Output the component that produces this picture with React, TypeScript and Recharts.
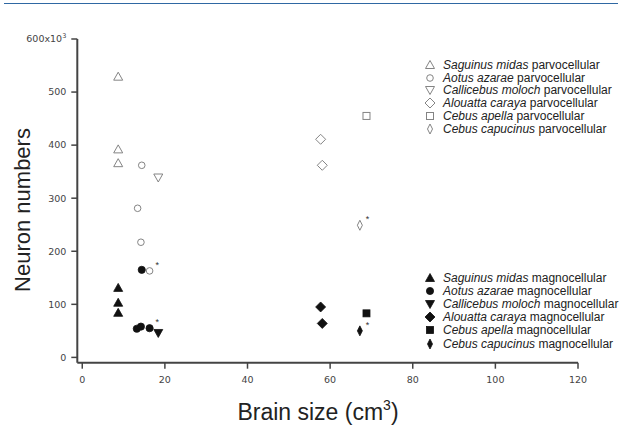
import { ScatterChart, Scatter, XAxis, YAxis } from 'recharts';

const xTicks = [0, 20, 40, 60, 80, 100, 120];
const yTicks = [0, 100, 200, 300, 400, 500, 600];

type Pt = { x: number; y: number; star?: boolean };

// parvocellular (open markers), y in thousands
const saguinusParvo: Pt[] = [
  { x: 8.7, y: 529 },
  { x: 8.7, y: 392 },
  { x: 8.7, y: 366 },
];
const aotusParvo: Pt[] = [
  { x: 14.4, y: 362 },
  { x: 13.4, y: 281 },
  { x: 14.2, y: 217 },
  { x: 16.3, y: 163, star: true },
];
const callicebusParvo: Pt[] = [{ x: 18.4, y: 339 }];
const alouattaParvo: Pt[] = [
  { x: 57.7, y: 411 },
  { x: 58.1, y: 362 },
];
const apellaParvo: Pt[] = [{ x: 68.8, y: 455 }];
const capucinusParvo: Pt[] = [{ x: 67.2, y: 249, star: true }];

// magnocellular (filled markers)
const saguinusMagno: Pt[] = [
  { x: 8.7, y: 131 },
  { x: 8.7, y: 103 },
  { x: 8.7, y: 84 },
];
const aotusMagno: Pt[] = [
  { x: 14.4, y: 165 },
  { x: 13.2, y: 54 },
  { x: 14.2, y: 58 },
  { x: 16.3, y: 55, star: true },
];
const callicebusMagno: Pt[] = [{ x: 18.4, y: 46 }];
const alouattaMagno: Pt[] = [
  { x: 57.7, y: 95 },
  { x: 58.1, y: 64 },
];
const apellaMagno: Pt[] = [{ x: 68.8, y: 83 }];
const capucinusMagno: Pt[] = [{ x: 67.2, y: 50, star: true }];

const species = [
  'Saguinus midas',
  'Aotus azarae',
  'Callicebus moloch',
  'Alouatta caraya',
  'Cebus apella',
  'Cebus capucinus',
];
const kinds = ['triangle', 'circle', 'down', 'diamond', 'square', 'thin'];
const parvoSets = [saguinusParvo, aotusParvo, callicebusParvo, alouattaParvo, apellaParvo, capucinusParvo];
const magnoSets = [saguinusMagno, aotusMagno, callicebusMagno, alouattaMagno, apellaMagno, capucinusMagno];

const OPEN = '#848484';
const FILLED = '#111';
const AXIS = '#444';
const FONT = '"Liberation Sans", Arial, sans-serif';
const TICK_FONT = '"DejaVu Sans", Verdana, sans-serif';

function marker(kind: string, cx: number, cy: number, filled: boolean) {
  const fill = filled ? FILLED : 'none';
  const stroke = filled ? FILLED : OPEN;
  const sw = filled ? 0.8 : 1;
  switch (kind) {
    case 'triangle':
      return <polygon points={`${cx},${cy - 4.5} ${cx + 4.5},${cy + 3.5} ${cx - 4.5},${cy + 3.5}`} fill={fill} stroke={stroke} strokeWidth={sw} />;
    case 'down':
      return <polygon points={`${cx - 4.5},${cy - 3.5} ${cx + 4.5},${cy - 3.5} ${cx},${cy + 4.5}`} fill={fill} stroke={stroke} strokeWidth={sw} />;
    case 'circle':
      return <circle cx={cx} cy={cy} r={filled ? 3.6 : 3.3} fill={fill} stroke={stroke} strokeWidth={sw} />;
    case 'diamond':
      return <polygon points={`${cx},${cy - 5} ${cx + 5},${cy} ${cx},${cy + 5} ${cx - 5},${cy}`} fill={fill} stroke={stroke} strokeWidth={sw} />;
    case 'square':
      return <rect x={cx - 3.5} y={cy - 3.5} width={7} height={7} fill={fill} stroke={stroke} strokeWidth={sw} />;
    default:
      return <polygon points={`${cx},${cy - 5} ${cx + 2.5},${cy} ${cx},${cy + 5} ${cx - 2.5},${cy}`} fill={fill} stroke={stroke} strokeWidth={sw} />;
  }
}

function makeShape(kind: string, filled: boolean) {
  return (props: any) => {
    const { cx, cy, payload } = props;
    return (
      <g>
        {marker(kind, cx, cy, filled)}
        {payload?.star && (
          <text x={cx + 6} y={cy - 3} fontSize={9} fill="#333" fontFamily={FONT}>
            *
          </text>
        )}
      </g>
    );
  };
}

const XTick = (props: any) => {
  const { x, y, payload } = props;
  return (
    <text x={x} y={y + 12} textAnchor="middle" fontSize={9.5} fill="#444" fontFamily={TICK_FONT}>
      {payload.value}
    </text>
  );
};

const YTick = (props: any) => {
  const { x, y, payload } = props;
  if (payload.value === 600) {
    return (
      <text x={x - 3} y={y} dy="0.35em" textAnchor="end" fontSize={9.5} fill="#444" fontFamily={TICK_FONT}>
        600x10
        <tspan fontSize={6.5} dy={-4}>3</tspan>
      </text>
    );
  }
  return (
    <text x={x - 3} y={y} dy="0.35em" textAnchor="end" fontSize={9.5} fill="#444" fontFamily={TICK_FONT}>
      {payload.value}
    </text>
  );
};

function LegendBlock({ top, step, filled, suffix }: { top: number; step: number; filled: boolean; suffix: string }) {
  return (
    <>
      {species.map((name, i) => (
        <div
          key={name}
          style={{
            position: 'absolute',
            left: 423,
            top: top + i * step - 7,
            height: 14,
            display: 'flex',
            alignItems: 'center',
            fontFamily: FONT,
            fontSize: 12,
            color: '#222',
            whiteSpace: 'nowrap',
          }}
        >
          <svg width={14} height={14} style={{ marginRight: 6 }}>
            {marker(kinds[i], 7, 7, filled)}
          </svg>
          <span>
            <i>{name}</i> {suffix}
          </span>
        </div>
      ))}
    </>
  );
}

export default function App() {
  return (
    <div style={{ position: 'absolute', left: 0, top: 0, width: 624, height: 425, background: '#fff' }}>
      <div style={{ position: 'absolute', left: 4, top: 3, width: 614, height: 1, background: '#2f68a3' }} />
      <ScatterChart width={624} height={425} margin={{ top: 39, right: 46, left: 17.3, bottom: 32.3 }}>
        <XAxis
          type="number"
          dataKey="x"
          domain={[-1.2, 120]}
          ticks={xTicks}
          allowDataOverflow
          height={30}
          tickSize={6}
          axisLine={{ stroke: AXIS, strokeWidth: 2 }}
          tickLine={{ stroke: AXIS, strokeWidth: 1.5 }}
          tick={<XTick />}
          label={() => (
            <text x={318} y={420} textAnchor="middle" fontSize={23} fill="#222" fontFamily={FONT}>
              Brain size (cm
              <tspan fontSize={14} dy={-10}>3</tspan>
              <tspan dy={10}>)</tspan>
            </text>
          )}
        />
        <YAxis
          type="number"
          dataKey="y"
          domain={[-10, 600]}
          ticks={yTicks}
          allowDataOverflow
          width={60}
          tickSize={6}
          axisLine={{ stroke: AXIS, strokeWidth: 2 }}
          tickLine={{ stroke: AXIS, strokeWidth: 1.5 }}
          tick={<YTick />}
          label={() => (
            <text
              x={0}
              y={0}
              transform="translate(30, 210) rotate(-90)"
              textAnchor="middle"
              fontSize={22}
              fill="#222"
              fontFamily={FONT}
            >
              Neuron numbers
            </text>
          )}
        />
        {parvoSets.map((d, i) => (
          <Scatter
            key={'p' + i}
            name={species[i] + ' parvocellular'}
            data={d}
            shape={makeShape(kinds[i], false)}
            isAnimationActive={false}
          />
        ))}
        {magnoSets.map((d, i) => (
          <Scatter
            key={'m' + i}
            name={species[i] + ' magnocellular'}
            data={d}
            shape={makeShape(kinds[i], true)}
            isAnimationActive={false}
          />
        ))}
      </ScatterChart>
      <LegendBlock top={65} step={12.7} filled={false} suffix="parvocellular" />
      <LegendBlock top={277.5} step={13.2} filled={true} suffix="magnocellular" />
    </div>
  );
}
